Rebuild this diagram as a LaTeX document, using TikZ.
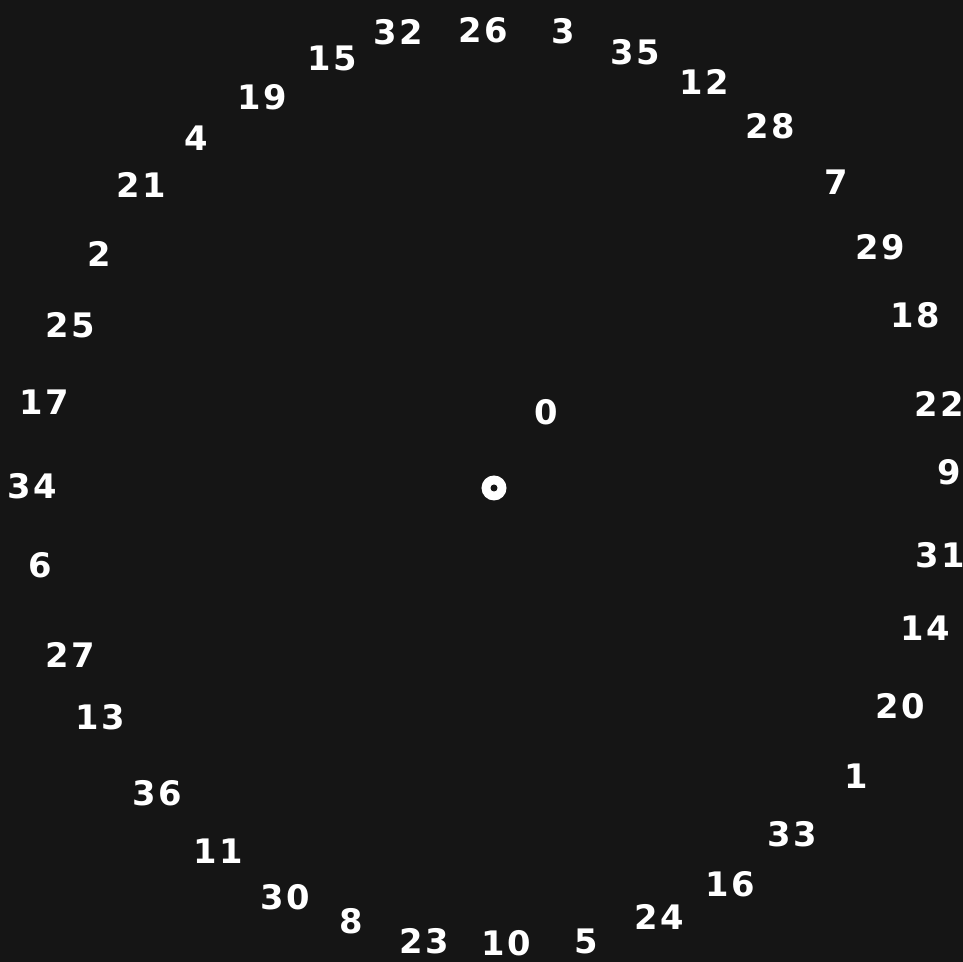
\documentclass[tikz,border=0pt]{standalone}
\usepackage{fontspec}
\setmainfont{DejaVu Sans}
\newfontfamily\wheelfont[LetterSpace=8]{DejaVu Sans}
\usepackage{xcolor}
\definecolor{wheelbg}{HTML}{151515}

\begin{document}
\begin{tikzpicture}[
  x=0.01cm, y=-0.01cm,
  num/.style={text=white, font=\wheelfont\fontsize{9.6}{11}\selectfont\bfseries, inner sep=0pt},
  hub/.style={circle, fill=white, minimum size=0.25cm, inner sep=0pt}
]
  % background and frame
  \fill[wheelbg] (0,0) rectangle (963,962);
  \useasboundingbox (0,0) rectangle (963,962);

  % pockets in wheel order
  \foreach \px/\py/\num in {
      398/32/32, 332/58/15, 262/97/19, 196/138/4, 141/185/21, 99/254/2,
      70/325/25, 44/402/17, 32/486/34, 40/565/6, 70/655/27, 100/717/13,
      157/793/36, 218/851/11, 285/897/30, 351/921/8, 424/941/23, 506/943/10,
      586/941/5, 659/917/24, 730/884/16, 792/834/33, 856/776/1, 900/706/20,
      925/628/14, 940/555/31, 949/472/9, 939/404/22, 915/315/18, 880/247/29,
      836/182/7, 770/126/28, 704/82/12, 635/52/35, 563/31/3, 483/30/26}
    \node[num] (n\num) at (\px,\py) {\num};

  % zero and the centre
  \node[num] (n0) at (546,412) {0};
  \node[hub] (hub) at (494,488) {};
  \fill[wheelbg] (hub.center) circle (0.035cm);
\end{tikzpicture}
\end{document}
